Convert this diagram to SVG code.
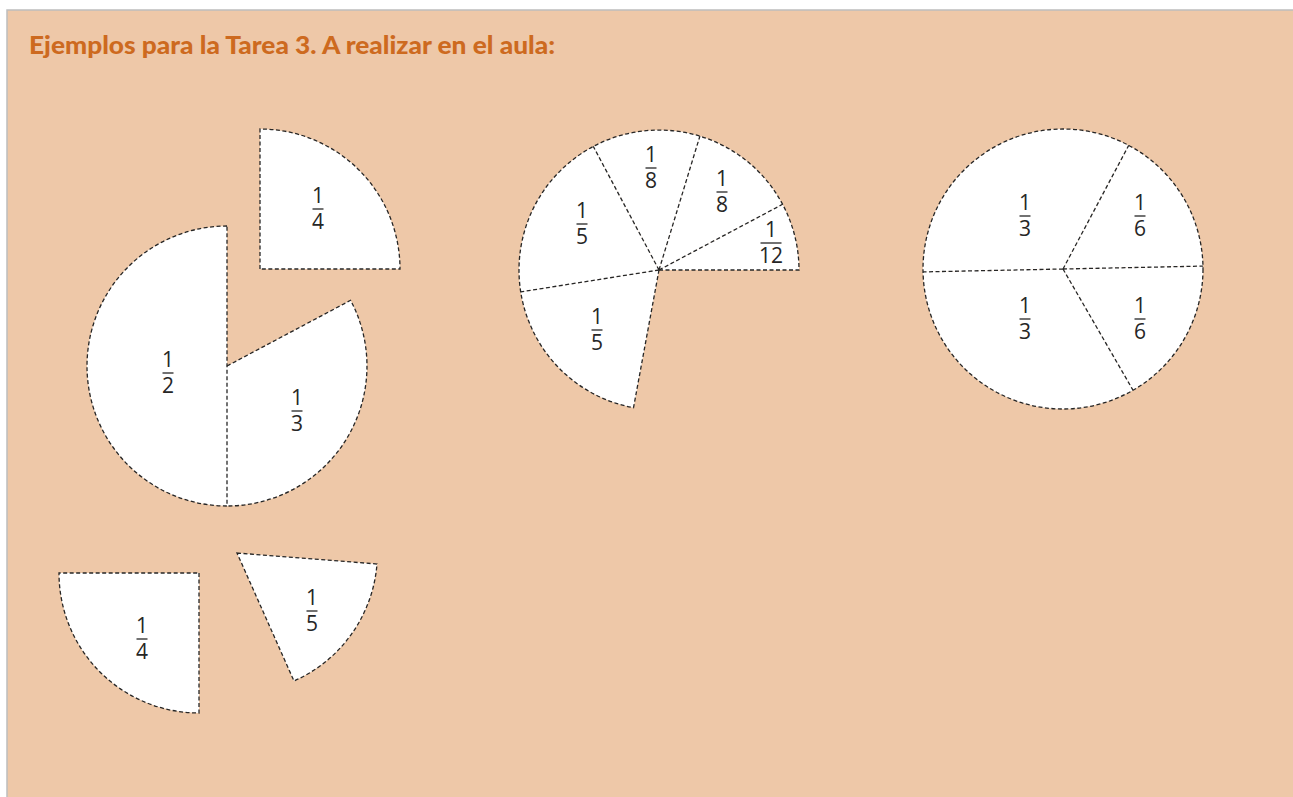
<svg xmlns="http://www.w3.org/2000/svg" width="1293" height="797" viewBox="0 0 1293 797">
<style>
.bg{fill:#EEC8A8;stroke:#BDBDBD;stroke-width:1.5}
.fill{fill:#FFFFFF;stroke:none}
.cut{fill:none;stroke:#262626;stroke-width:1.3;stroke-dasharray:4 2.5}
.fr{font-family:"Open Sans","Noto Sans",sans-serif;font-size:21px;fill:#262626;text-anchor:middle}
.bar{stroke:#262626;stroke-width:1.3}
.title{font-family:Lato,"Open Sans",sans-serif;font-weight:900;font-size:25px;fill:#CD6A1F}
</style>
<rect x="0" y="0" width="1293" height="797" fill="#FFFFFF"/>
<rect class="bg" x="7" y="10" width="1290" height="792"/>
<text class="title" x="29" y="54" textLength="526" lengthAdjust="spacingAndGlyphs">Ejemplos para la Tarea 3. A realizar en el aula:</text>

<g id="half">
<path class="fill" d="M227,226 A140,140 0 0 0 227,506 Z"/>
<text class="fr" x="168" y="367">1</text><line class="bar" x1="162.5" y1="373" x2="173.5" y2="373"/><text class="fr" x="168" y="393">2</text>
</g>
<g id="third-left">
<path class="fill" d="M227,366 L350.6,300.3 A140,140 0 0 1 227,506 Z"/>
<text class="fr" x="297" y="405">1</text><line class="bar" x1="291.5" y1="411" x2="302.5" y2="411"/><text class="fr" x="297" y="431">3</text>
</g>
<g id="quarter-top">
<path class="fill" d="M260,269 L260,129 A140,140 0 0 1 400,269 Z"/>
<text class="fr" x="318" y="203">1</text><line class="bar" x1="312.5" y1="209" x2="323.5" y2="209"/><text class="fr" x="318" y="229">4</text>
</g>
<g id="quarter-bottom">
<path class="fill" d="M199,573 L199,713 A140,140 0 0 1 59,573 Z"/>
<text class="fr" x="142" y="633">1</text><line class="bar" x1="136.5" y1="639" x2="147.5" y2="639"/><text class="fr" x="142" y="659">4</text>
</g>
<g id="fifth-bottom">
<path class="fill" d="M237,553 L377,564 A140,140 0 0 1 294,681 Z"/>
<text class="fr" x="312" y="605">1</text><line class="bar" x1="306.5" y1="611" x2="317.5" y2="611"/><text class="fr" x="312" y="631">5</text>
</g>

<g id="mid-twelfth">
<path class="fill" d="M659,270 L799,270 A140,140 0 0 0 782.6,204.3 Z"/>
<text class="fr" x="771" y="237">1</text><line class="bar" x1="760.5" y1="243" x2="781.5" y2="243"/><text class="fr" x="771" y="263">12</text>
</g>
<g id="mid-eighth-a">
<path class="fill" d="M659,270 L782.6,204.3 A140,140 0 0 0 699.9,136.1 Z"/>
<text class="fr" x="722" y="186">1</text><line class="bar" x1="716.5" y1="192" x2="727.5" y2="192"/><text class="fr" x="722" y="212">8</text>
</g>
<g id="mid-eighth-b">
<path class="fill" d="M659,270 L699.9,136.1 A140,140 0 0 0 593.3,146.4 Z"/>
<text class="fr" x="651" y="162">1</text><line class="bar" x1="645.5" y1="168" x2="656.5" y2="168"/><text class="fr" x="651" y="188">8</text>
</g>
<g id="mid-fifth-a">
<path class="fill" d="M659,270 L593.3,146.4 A140,140 0 0 0 520.7,291.9 Z"/>
<text class="fr" x="582" y="218">1</text><line class="bar" x1="576.5" y1="224" x2="587.5" y2="224"/><text class="fr" x="582" y="244">5</text>
</g>
<g id="mid-fifth-b">
<path class="fill" d="M659,270 L520.7,291.9 A140,140 0 0 0 633.5,407.7 Z"/>
<text class="fr" x="597" y="324">1</text><line class="bar" x1="591.5" y1="330" x2="602.5" y2="330"/><text class="fr" x="597" y="350">5</text>
</g>

<g id="right-sixth-a">
<path class="fill" d="M1063,269 L1128.7,145.4 A140,140 0 0 1 1203,266.1 Z"/>
<text class="fr" x="1140" y="210">1</text><line class="bar" x1="1134.5" y1="216" x2="1145.5" y2="216"/><text class="fr" x="1140" y="236">6</text>
</g>
<g id="right-sixth-b">
<path class="fill" d="M1063,269 L1203,266.1 A140,140 0 0 1 1133,390.2 Z"/>
<text class="fr" x="1140" y="313">1</text><line class="bar" x1="1134.5" y1="319" x2="1145.5" y2="319"/><text class="fr" x="1140" y="339">6</text>
</g>
<g id="right-third-b">
<path class="fill" d="M1063,269 L1133,390.2 A140,140 0 0 1 923,271.9 Z"/>
<text class="fr" x="1025" y="313">1</text><line class="bar" x1="1019.5" y1="319" x2="1030.5" y2="319"/><text class="fr" x="1025" y="339">3</text>
</g>
<g id="right-third-a">
<path class="fill" d="M1063,269 L923,271.9 A140,140 0 0 1 1128.7,145.4 Z"/>
<text class="fr" x="1025" y="210">1</text><line class="bar" x1="1019.5" y1="216" x2="1030.5" y2="216"/><text class="fr" x="1025" y="236">3</text>
</g>

<g id="connectors">
<path class="cut" d="M227,226 A140,140 0 0 0 227,506 Z"/>
<path class="cut" d="M227,366 L350.6,300.3 A140,140 0 0 1 227,506"/>
<path class="cut" d="M260,269 L260,129 A140,140 0 0 1 400,269 Z"/>
<path class="cut" d="M199,573 L199,713 A140,140 0 0 1 59,573 Z"/>
<path class="cut" d="M237,553 L377,564 A140,140 0 0 1 294,681 Z"/>
<path class="cut" d="M659,270 L799,270 A140,140 0 1 0 633.5,407.7 Z"/>
<path class="cut" d="M659,270 L782.6,204.3 M659,270 L699.9,136.1 M659,270 L593.3,146.4 M659,270 L520.7,291.9"/>
<circle class="cut" cx="1063" cy="269" r="140"/>
<path class="cut" d="M1063,269 L1128.7,145.4 M1063,269 L1203,266.1 M1063,269 L1133,390.2 M1063,269 L923,271.9"/>
</g>
</svg>
